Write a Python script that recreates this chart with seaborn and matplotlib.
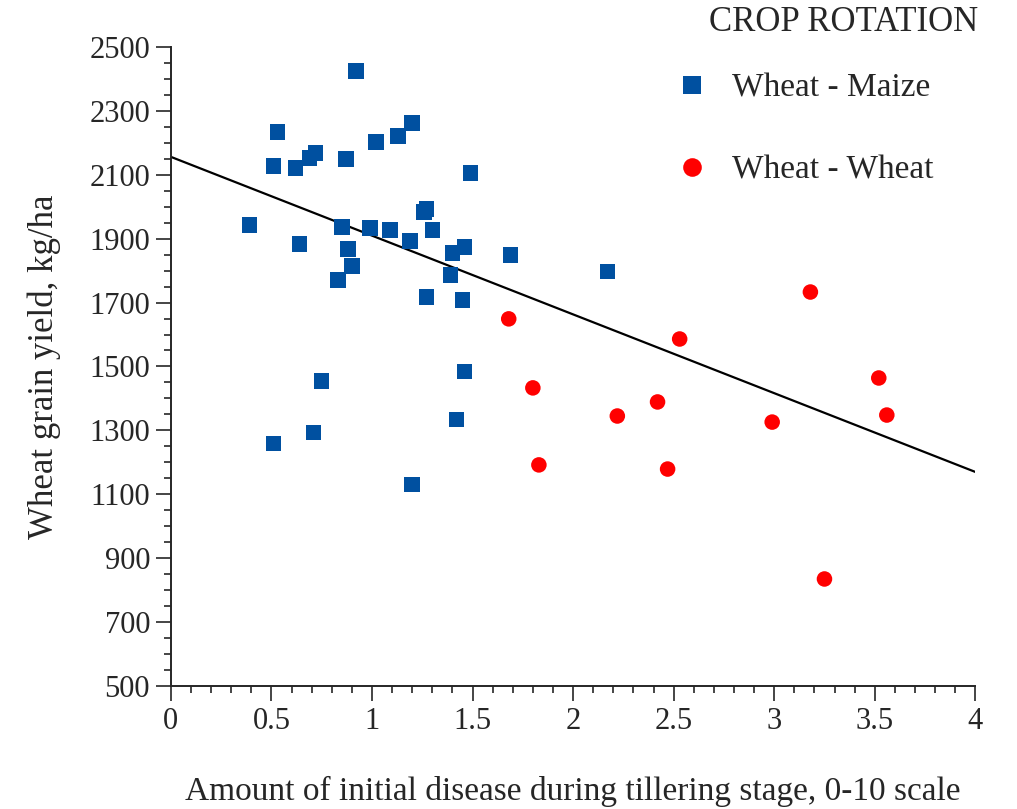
import pandas as pd
import seaborn as sns
import matplotlib.pyplot as plt
import matplotlib.ticker as ticker

# Datos
maize_x = [0.39, 0.53, 0.51, 0.62, 0.69, 0.72, 0.64, 0.92, 0.87, 1.02, 1.13, 1.20,
           0.85, 0.99, 1.09, 0.88, 0.90, 0.83, 1.19, 1.27, 1.26, 1.30, 1.40, 1.46,
           1.39, 1.27, 1.45, 1.49, 1.69, 2.17, 1.46, 0.75, 1.42, 0.71, 0.51, 1.20]
maize_y = [1943, 2234, 2128, 2121, 2153, 2168, 1883, 2425, 2150, 2203, 2221, 2262,
           1937, 1933, 1927, 1868, 1815, 1771, 1893, 1993, 1984, 1927, 1855, 1874,
           1786, 1718, 1708, 2106, 1849, 1797, 1484, 1455, 1334, 1294, 1259, 1130]
wheat_x = [1.68, 1.80, 1.83, 2.22, 2.42, 2.47, 2.53, 2.99, 3.18, 3.25, 3.52, 3.56]
wheat_y = [1649, 1433, 1192, 1345, 1389, 1179, 1586, 1326, 1733, 835, 1464, 1348]
trend_x = [0, 4]
trend_y = [2156, 1170]

groups = ['Wheat - Maize', 'Wheat - Wheat']

data = pd.DataFrame({
    'x': maize_x + wheat_x,
    'y': maize_y + wheat_y,
    'rot': [groups[0]] * len(maize_x) + [groups[1]] * len(wheat_x),
})

sns.set_style('ticks')
plt.rcParams['font.family'] = ['Liberation Serif', 'DejaVu Serif']

fig = plt.figure(figsize=(10.17, 8.09), dpi=100)
ax = fig.add_axes([0.168, 0.152, 0.791, 0.790])

sns.lineplot(x=trend_x, y=trend_y, color='black', linewidth=1.6, ax=ax, zorder=1)
sns.scatterplot(data=data, x='x', y='y', hue='rot', style='rot',
                palette={groups[0]: '#0050a0', groups[1]: '#ff0000'},
                markers={groups[0]: 's', groups[1]: 'o'},
                s=125, linewidth=0, ax=ax, zorder=3)

ax.set_xlim(0, 4)
ax.set_ylim(500, 2500)
ax.xaxis.set_major_locator(ticker.MultipleLocator(0.5))
ax.xaxis.set_minor_locator(ticker.MultipleLocator(0.1))
ax.xaxis.set_major_formatter(ticker.FuncFormatter(lambda v, p: f'{v:g}'))
ax.yaxis.set_major_locator(ticker.MultipleLocator(200, offset=100))
ax.yaxis.set_minor_locator(ticker.MultipleLocator(50))
ax.tick_params(which='major', direction='out', length=11, width=1.2, labelsize=22, pad=4)
ax.tick_params(which='minor', direction='out', length=5, width=1.2)
for s in ['top', 'right']:
    ax.spines[s].set_visible(False)
for s in ['left', 'bottom']:
    ax.spines[s].set_linewidth(1.4)

ax.set_xlabel('Amount of initial disease during tillering stage, 0-10 scale', fontsize=24, labelpad=29)
ax.set_ylabel('Wheat grain yield, kg/ha', fontsize=25, labelpad=20)

# Leyenda
leg = ax.legend(loc='upper left', bbox_to_anchor=(0.648, 0.930), bbox_transform=fig.transFigure,
                frameon=False, fontsize=24, handlelength=1, handletextpad=0.7,
                labelspacing=1.55, borderpad=0, markerscale=1.2)
fig.text(0.829, 0.972, 'CROP ROTATION', fontsize=25, ha='center', va='center')

plt.savefig('out.png', dpi=100)
